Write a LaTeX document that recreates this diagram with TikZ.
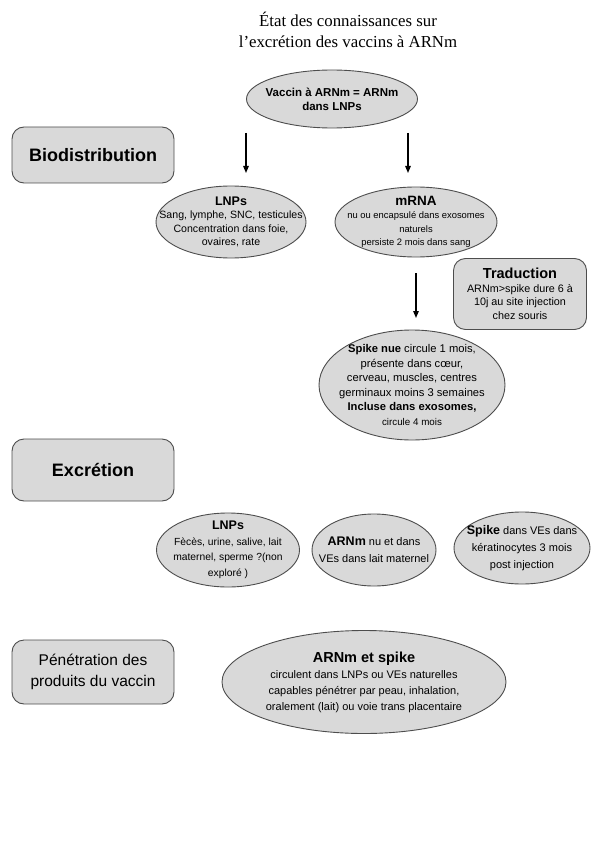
\documentclass[tikz,border=0pt]{standalone}
\usepackage{fontspec}
\setmainfont{Liberation Sans}
\newfontfamily\titlefont{Liberation Serif}
\usetikzlibrary{shapes.geometric,arrows.meta}
\definecolor{fillgray}{HTML}{D9D9D9}
\definecolor{edgegray}{HTML}{4D4D4D}
\begin{document}
\begin{tikzpicture}[x=1pt,y=-1pt,
  oval/.style={ellipse, draw=edgegray, fill=fillgray, line width=0.9pt, inner sep=0pt},
  sect/.style={rectangle, rounded corners=12pt, draw=edgegray, fill=fillgray, line width=0.9pt, minimum width=162pt, align=center},
  txt/.style={align=center, inner sep=0pt},
  arr/.style={-{Triangle[width=5.5pt,length=7pt]}, line width=1.3pt}]
\useasboundingbox (0,0) rectangle (595,842);

\node[txt, font=\titlefont\fontsize{16.8}{20.5}\selectfont] (title) at (348,30) {État des connaissances sur\\l’excrétion des vaccins à ARNm};

\node[oval, minimum width=171pt, minimum height=58pt] (vac) at (332,99) {};
\node[txt, font=\bfseries\fontsize{11.5}{14}\selectfont] (vacT) at (vac) {Vaccin à ARNm = ARNm\\dans LNPs};

\node[sect, minimum height=56pt, font=\bfseries\fontsize{18}{22}\selectfont] (bio) at (93,155) {Biodistribution};

\coordinate (a1s) at (246,133); \coordinate (a1e) at (246,173);
\coordinate (a2s) at (408,133); \coordinate (a2e) at (408,173);
\draw[arr] (a1s) -- (a1e);
\draw[arr] (a2s) -- (a2e);

\node[oval, minimum width=150pt, minimum height=72pt] (lnp) at (231,222) {};
\node[txt, font=\fontsize{10.6}{13.5}\selectfont] (lnpT) at (lnp) {{\bfseries\fontsize{12.5}{14}\selectfont LNPs}\\Sang, lymphe, SNC, testicules\\Concentration dans foie,\\ovaires, rate};

\node[oval, minimum width=162pt, minimum height=70pt] (mrna) at (416,222) {};
\node[txt, font=\fontsize{9.4}{13.5}\selectfont] (mrnaT) at (mrna) {{\bfseries\fontsize{13.5}{15}\selectfont mRNA}\\nu ou encapsulé dans exosomes\\naturels\\persiste 2 mois dans sang};

\node[sect, minimum width=133pt, minimum height=71pt, font=\fontsize{10.8}{13.5}\selectfont] (trad) at (520,294) {{\bfseries\fontsize{14.5}{16}\selectfont Traduction}\\ARNm>spike dure 6 à\\10j au site injection\\chez souris};

\coordinate (a3s) at (416,273); \coordinate (a3e) at (416,318);
\draw[arr] (a3s) -- (a3e);

\node[oval, minimum width=186pt, minimum height=110pt] (spike) at (412,385) {};
\node[txt, font=\fontsize{11.2}{14.5}\selectfont] (spikeT) at (spike) {{\bfseries Spike nue} circule 1 mois,\\présente dans cœur,\\cerveau, muscles, centres\\germinaux moins 3 semaines\\{\bfseries Incluse dans exosomes,}\\{\fontsize{9.8}{12}\selectfont circule 4 mois}};

\node[sect, minimum height=62pt, font=\bfseries\fontsize{18}{22}\selectfont] (exc) at (93,470) {Excrétion};

\node[oval, minimum width=143pt, minimum height=74pt] (lnp2) at (228,550) {};
\node[txt, font=\fontsize{10.3}{15.5}\selectfont] (lnp2T) at (lnp2) {{\bfseries\fontsize{12.5}{14}\selectfont LNPs}\\Fècès, urine, salive, lait\\maternel, sperme ?(non\\exploré )};

\node[oval, minimum width=124pt, minimum height=72pt] (arn2) at (374,550) {};
\node[txt, font=\fontsize{11}{17}\selectfont] (arn2T) at (arn2) {{\bfseries\fontsize{12.5}{14}\selectfont ARNm} nu et dans\\VEs dans lait maternel};

\node[oval, minimum width=136pt, minimum height=72pt] (sp2) at (522,548) {};
\node[txt, font=\fontsize{11}{17}\selectfont] (sp2T) at (sp2) {{\bfseries\fontsize{12.5}{14}\selectfont Spike} dans VEs dans\\kératinocytes 3 mois\\post injection};

\node[sect, minimum height=64pt, font=\fontsize{15.5}{20.5}\selectfont] (pen) at (93,672) {Pénétration des\\produits du vaccin};

\node[oval, minimum width=284pt, minimum height=103pt] (as) at (364,682) {};
\node[txt, font=\fontsize{11}{16}\selectfont] (asT) at (as) {{\bfseries\fontsize{14.5}{16}\selectfont ARNm et spike}\\circulent dans LNPs ou VEs naturelles\\capables pénétrer par peau, inhalation,\\oralement (lait) ou voie trans placentaire};
\end{tikzpicture}
\end{document}
